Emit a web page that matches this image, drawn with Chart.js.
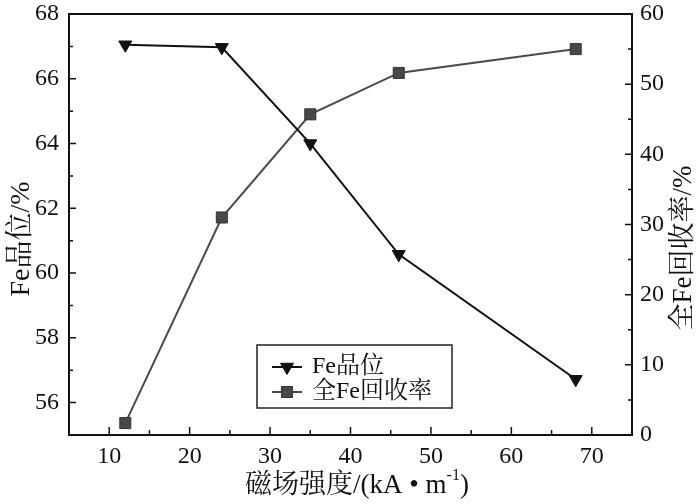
<!DOCTYPE html>
<html>
<head>
<meta charset="utf-8">
<script src="https://cdn.jsdelivr.net/npm/chart.js@4"></script>
<style>
  body { margin: 0; background: #fff; }
  #wrap { width: 700px; height: 504px; }
</style>
</head>
<body>
<div id="wrap"><canvas id="myChart"></canvas></div>
<script>
const ctx = document.getElementById('myChart');

// data
let fieldStrength = [12, 24, 35, 46, 68];
let feGrade       = [67.05, 66.97, 64.0, 60.58, 56.72];
let feRecovery    = [1.7, 31.0, 45.7, 51.6, 55.0];

let xTicks     = [10, 20, 30, 40, 50, 60, 70];
let leftTicks  = [56, 58, 60, 62, 64, 66, 68];
let rightTicks = [0, 10, 20, 30, 40, 50, 60];

const serif = "'Liberation Serif', 'Noto Serif CJK SC', 'Noto Sans CJK SC', serif";
Chart.defaults.font.family = serif;
Chart.defaults.color = '#111';

function setTicks(list) {
  return function (scale) {
    scale.ticks = list.map(v => ({ value: v }));
  };
}

function fitY(w) {
  return function (s) {
    s.width = w;
    s.paddingTop = 0;
    s.paddingBottom = 0;
  };
}

const framePlugin = {
  id: 'frame',
  afterDraw(chart) {
    const c = chart.ctx;
    const a = chart.chartArea;
    const sx = chart.scales.x, yl = chart.scales.y, yr = chart.scales.y2;
    c.save();
    c.strokeStyle = '#111';
    c.lineWidth = 2;
    c.strokeRect(a.left, a.top, a.right - a.left, a.bottom - a.top);

    c.lineWidth = 1.5;
    c.beginPath();
    // x ticks, inward (upward)
    for (let v = 5; v <= 75; v += 5) {
      const px = sx.getPixelForValue(v);
      const len = v % 10 === 0 ? 8 : 5;
      c.moveTo(px, a.bottom); c.lineTo(px, a.bottom - len);
    }
    // left ticks, inward
    for (let v = 55; v <= 68; v += 1) {
      const py = yl.getPixelForValue(v);
      const len = v % 2 === 0 ? 7 : 4;
      c.moveTo(a.left, py); c.lineTo(a.left + len, py);
    }
    // right ticks, inward
    for (let v = 0; v <= 60; v += 5) {
      const py = yr.getPixelForValue(v);
      const len = v % 10 === 0 ? 7 : 4;
      c.moveTo(a.right, py); c.lineTo(a.right - len, py);
    }
    c.stroke();

    // axis titles
    c.fillStyle = '#111';
    c.textAlign = 'center';
    c.textBaseline = 'middle';

    c.save();
    c.font = '28px ' + serif;
    c.translate(22, 239);
    c.rotate(-Math.PI / 2);
    c.fillText('Fe品位/%', 0, 0);
    c.restore();

    c.save();
    c.font = '27px ' + serif;
    c.translate(684, 248);
    c.rotate(-Math.PI / 2);
    c.fillText('全Fe回收率/%', 0, 0);
    c.restore();

    // x title with superscript
    const main = '磁场强度/(kA • m';
    const sup = '-1';
    const tail = ')';
    c.font = '27px ' + serif;
    const wMain = c.measureText(main).width;
    const wTail = c.measureText(tail).width;
    c.font = '16px ' + serif;
    const wSup = c.measureText(sup).width;
    let x0 = 357 - (wMain + wSup + wTail) / 2;
    c.textAlign = 'left';
    c.font = '27px ' + serif;
    c.fillText(main, x0, 486);
    c.font = '16px ' + serif;
    c.fillText(sup, x0 + wMain, 476);
    c.font = '27px ' + serif;
    c.fillText(tail, x0 + wMain + wSup, 486);

    // legend box
    c.lineWidth = 1.5;
    c.strokeStyle = '#222';
    c.strokeRect(257, 345, 195, 63);
    const rows = [
      { y: 367, label: 'Fe品位', ds: chart.data.datasets[0] },
      { y: 392, label: '全Fe回收率', ds: chart.data.datasets[1] }
    ];
    rows.forEach(r => {
      c.strokeStyle = r.ds.borderColor;
      c.lineWidth = 2;
      c.beginPath();
      c.moveTo(272, r.y); c.lineTo(302, r.y);
      c.stroke();
      c.fillStyle = r.ds.pointBackgroundColor;
      c.strokeStyle = r.ds.pointBorderColor;
      c.lineWidth = 1;
      Chart.helpers.drawPoint(c, {
        pointStyle: r.ds.pointStyle,
        rotation: r.ds.pointRotation || 0,
        radius: r.ds.pointRadius,
        borderWidth: 1
      }, 287, r.y);
      c.fillStyle = '#111';
      c.font = '24px ' + serif;
      c.textAlign = 'left';
      c.fillText(r.label, 312, r.y);
    });
    c.restore();
  }
};

new Chart(ctx, {
  type: 'line',
  data: {
    datasets: [{
      label: 'Fe品位',
      data: fieldStrength.map((x, i) => ({ x: x, y: feGrade[i] })),
      yAxisID: 'y',
      borderColor: '#111',
      backgroundColor: '#111',
      borderWidth: 2,
      pointStyle: 'triangle',
      pointRotation: 180,
      pointRadius: 7.5,
      pointBorderWidth: 1,
      pointBackgroundColor: '#111',
      pointBorderColor: '#111',
      tension: 0
    }, {
      label: '全Fe回收率',
      data: fieldStrength.map((x, i) => ({ x: x, y: feRecovery[i] })),
      yAxisID: 'y2',
      borderColor: '#4a4a4a',
      backgroundColor: '#484848',
      borderWidth: 2,
      pointStyle: 'rect',
      pointRadius: 7.8,
      pointBorderWidth: 1,
      pointBackgroundColor: '#484848',
      pointBorderColor: '#333',
      tension: 0
    }]
  },
  options: {
    responsive: true,
    maintainAspectRatio: false,
    animation: false,
    layout: { padding: { top: 14, left: 0, right: 0, bottom: 0 } },
    plugins: {
      legend: { display: false },
      tooltip: { enabled: false }
    },
    scales: {
      x: {
        type: 'linear',
        min: 5, max: 75,
        afterBuildTicks: setTicks(xTicks),
        afterFit(s) { s.height = 69; s.paddingLeft = 0; s.paddingRight = 0; },
        grid: { display: false, drawTicks: false },
        border: { display: false },
        ticks: { padding: 7, font: { size: 24 }, color: '#111', maxRotation: 0 }
      },
      y: {
        position: 'left',
        min: 55, max: 68,
        afterBuildTicks: setTicks(leftTicks),
        afterFit: fitY(69),
        grid: { display: false, drawTicks: false },
        border: { display: false },
        ticks: { padding: 10, font: { size: 24 }, color: '#111' }
      },
      y2: {
        position: 'right',
        min: 0, max: 60,
        afterBuildTicks: setTicks(rightTicks),
        afterFit: fitY(68),
        grid: { display: false, drawTicks: false },
        border: { display: false },
        ticks: { padding: 8, font: { size: 24 }, color: '#111' }
      }
    }
  },
  plugins: [framePlugin]
});
</script>
</body>
</html>
